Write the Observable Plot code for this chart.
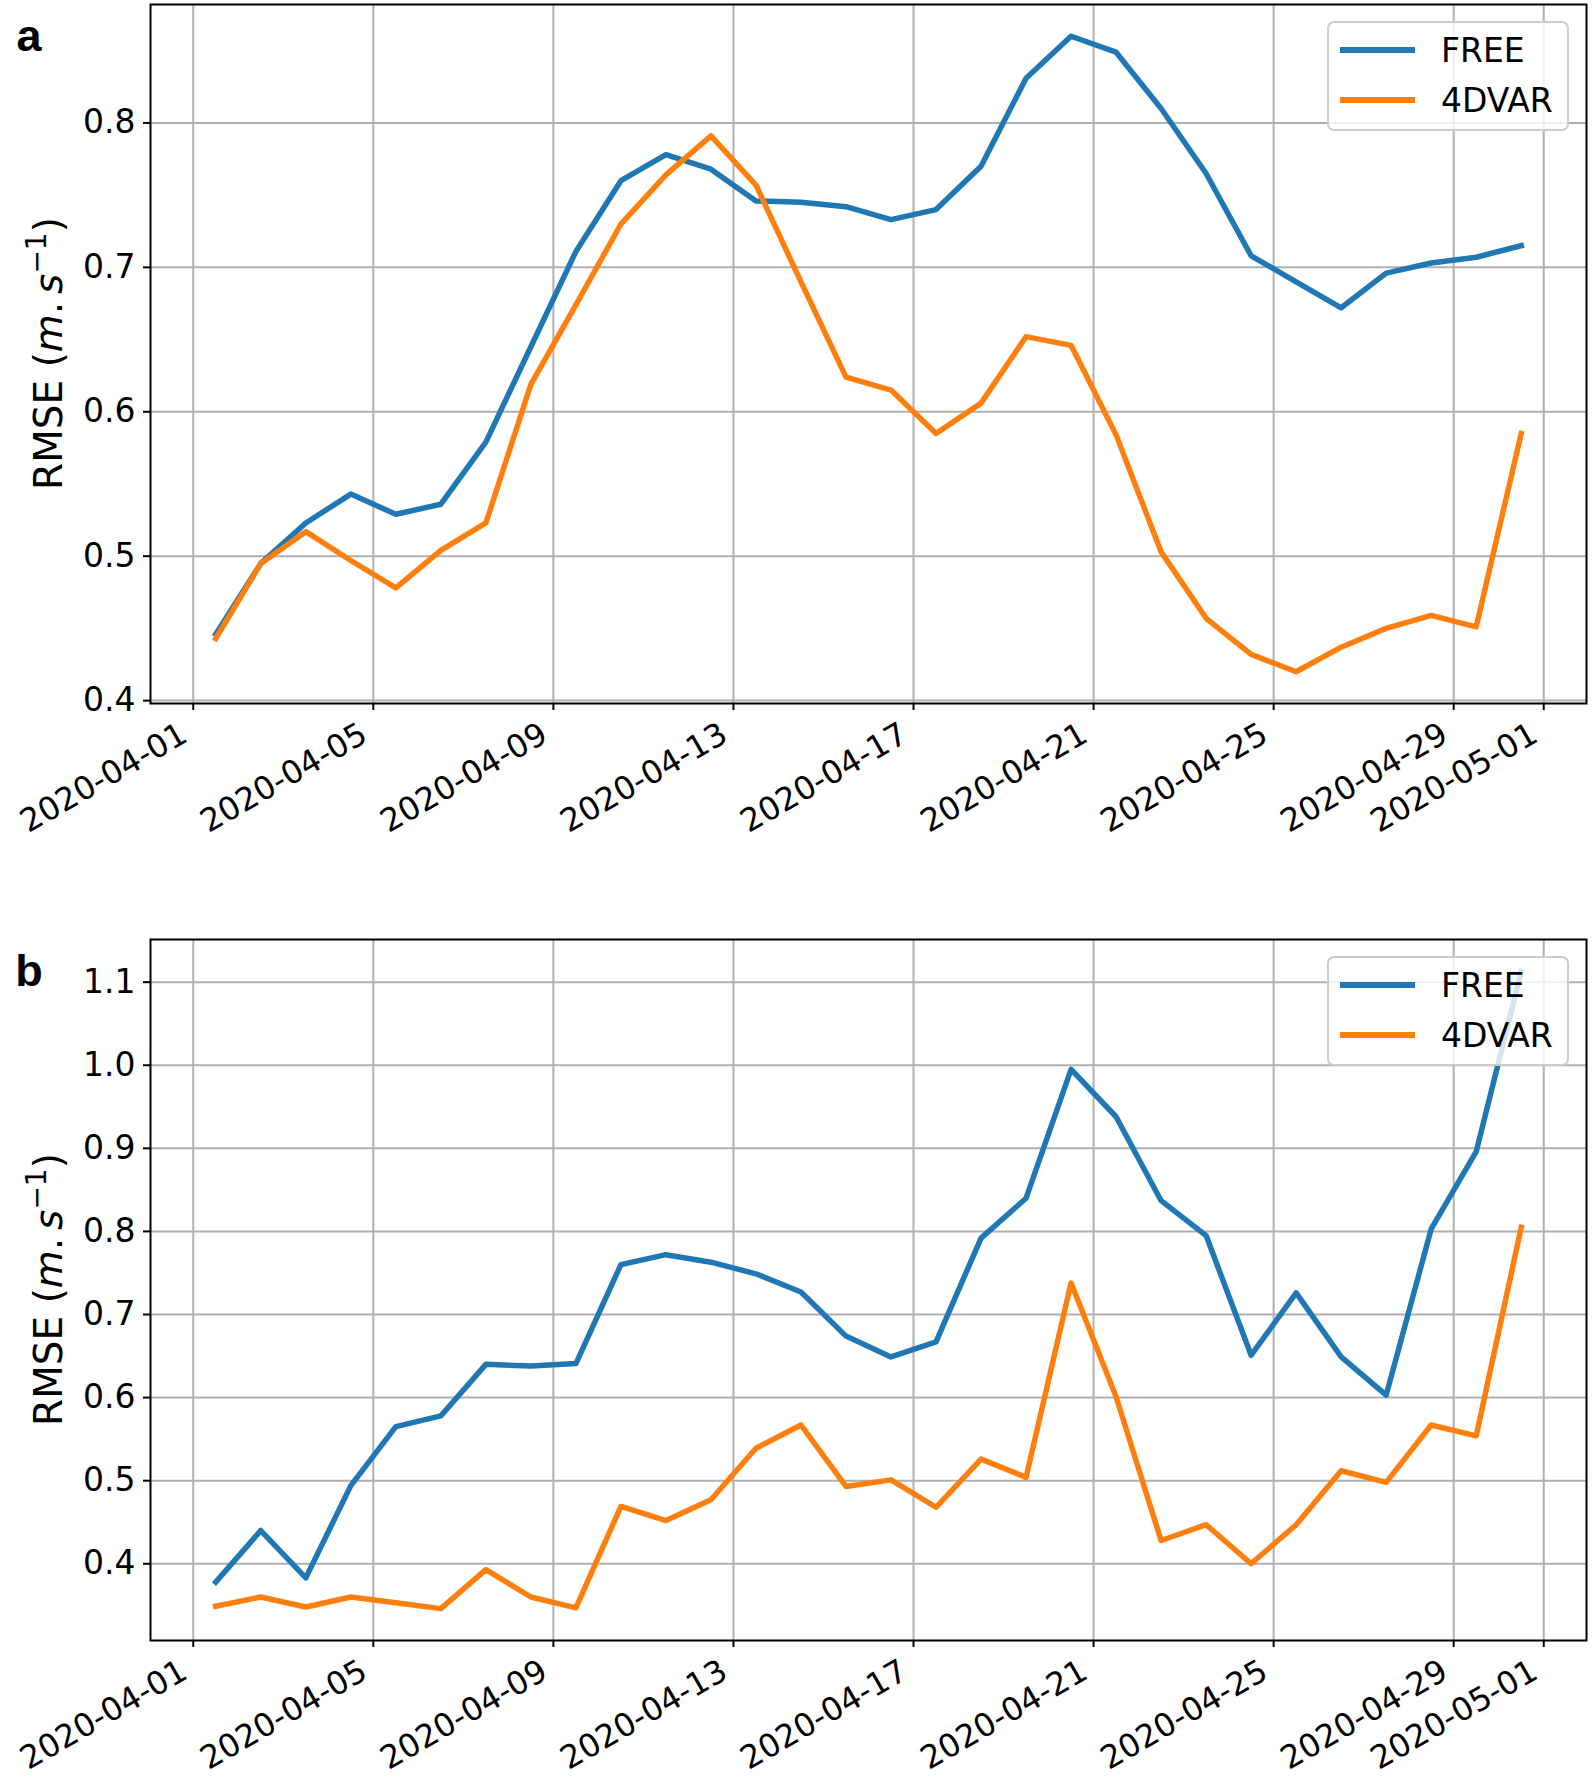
<!DOCTYPE html>
<html>
<head>
<meta charset="utf-8">
<script src="https://cdn.jsdelivr.net/npm/d3@7"></script>
<script src="https://cdn.jsdelivr.net/npm/@observablehq/plot@0.6"></script>
<style>
  html, body { margin: 0; padding: 0; background: #fff; }
  #fig { position: relative; width: 1594px; height: 1780px; overflow: hidden; background: #fff; }
  .panel { position: relative; width: 1594px; }
  .panel svg { display: block; }
  .legend { position: absolute; box-sizing: border-box; background: rgba(255,255,255,0.8);
            border: 2px solid #cccccc; border-radius: 7px; }
  .legend .sw { position: absolute; left: 11px; width: 75px; height: 6px; }
  .legend .lb { position: absolute; left: 112px; font-family: "DejaVu Sans"; font-size: 33px;
                line-height: 1; transform: translateY(-50%); white-space: nowrap; color: #000; }
</style>
</head>
<body>
<div id="fig"></div>
<script>
// ---- data ----
const dates = [
  "2020-04-01T12:00Z","2020-04-02T12:00Z","2020-04-03T12:00Z","2020-04-04T12:00Z","2020-04-05T12:00Z",
  "2020-04-06T12:00Z","2020-04-07T12:00Z","2020-04-08T12:00Z","2020-04-09T12:00Z","2020-04-10T12:00Z",
  "2020-04-11T12:00Z","2020-04-12T12:00Z","2020-04-13T12:00Z","2020-04-14T12:00Z","2020-04-15T12:00Z",
  "2020-04-16T12:00Z","2020-04-17T12:00Z","2020-04-18T12:00Z","2020-04-19T12:00Z","2020-04-20T12:00Z",
  "2020-04-21T12:00Z","2020-04-22T12:00Z","2020-04-23T12:00Z","2020-04-24T12:00Z","2020-04-25T12:00Z",
  "2020-04-26T12:00Z","2020-04-27T12:00Z","2020-04-28T12:00Z","2020-04-29T12:00Z","2020-04-30T12:00Z"
];
const seriesNames = ["FREE", "4DVAR"];
const seriesColors = ["#1f77b4", "#ff7f0e"];

const freeA = [0.446,0.495,0.523,0.543,0.529,0.536,0.579,0.645,0.711,0.760,0.778,0.768,0.746,0.745,0.742,
               0.733,0.740,0.770,0.831,0.860,0.849,0.810,0.765,0.708,0.690,0.672,0.696,0.703,0.707,0.715];
const dvarA = [0.443,0.495,0.517,0.497,0.478,0.504,0.523,0.619,0.674,0.730,0.764,0.791,0.757,0.690,0.624,
               0.615,0.585,0.606,0.652,0.646,0.584,0.503,0.457,0.432,0.420,0.437,0.450,0.459,0.451,0.585];
const freeB = [0.378,0.440,0.383,0.494,0.565,0.578,0.640,0.638,0.641,0.760,0.772,0.763,0.749,0.727,0.674,
               0.649,0.667,0.792,0.840,0.995,0.938,0.837,0.795,0.651,0.726,0.649,0.603,0.803,0.896,1.113];
const dvarB = [0.349,0.360,0.348,0.360,0.353,0.346,0.393,0.360,0.347,0.469,0.452,0.477,0.539,0.567,0.493,
               0.501,0.468,0.526,0.504,0.738,0.601,0.428,0.447,0.400,0.447,0.512,0.498,0.567,0.554,0.805];

const xTickLabels = ["2020-04-01","2020-04-05","2020-04-09","2020-04-13","2020-04-17",
                     "2020-04-21","2020-04-25","2020-04-29","2020-05-01"];
const yTicksA = [0.4, 0.5, 0.6, 0.7, 0.8];
const yTicksB = [0.4, 0.5, 0.6, 0.7, 0.8, 0.9, 1.0, 1.1];
const panelTags = ["a", "b"];

// ---- drawing ----
const W = 1594;
const parseDate = s => new Date(s);
const xTicks = xTickLabels.map(s => new Date(s + "T00:00Z"));
const fmtDate = d3.utcFormat("%Y-%m-%d");
const fig = document.getElementById("fig");

function makePanel(free, dvar, yTicks, tag, height, mTop, mBottom) {
  const rows = dates.map((d, i) => ({date: parseDate(d), free: free[i], dvar: dvar[i]}));
  const all = free.concat(dvar);
  const lo = d3.min(all), hi = d3.max(all), pad = (hi - lo) * 0.05;
  const t0 = +parseDate(dates[0]), t1 = +parseDate(dates[dates.length - 1]), tp = (t1 - t0) * 0.05;
  const mLeft = 150, mRight = 8;
  const lineOpts = {strokeWidth: 5.5, strokeLinejoin: "round", strokeLinecap: "square"};
  const svg = Plot.plot({
    width: W, height, marginLeft: mLeft, marginRight: mRight, marginTop: mTop, marginBottom: mBottom,
    style: {fontFamily: "DejaVu Sans", fontSize: "33px", color: "black", background: "white", overflow: "visible"},
    x: {type: "utc", domain: [new Date(t0 - tp), new Date(t1 + tp)]},
    y: {domain: [lo - pad, hi + pad]},
    marks: [
      Plot.gridX(xTicks, {stroke: "#b0b0b0", strokeOpacity: 1, strokeWidth: 2}),
      Plot.gridY(yTicks, {stroke: "#b0b0b0", strokeOpacity: 1, strokeWidth: 2}),
      Plot.line(rows, {x: "date", y: "free", stroke: seriesColors[0], ...lineOpts}),
      Plot.line(rows, {x: "date", y: "dvar", stroke: seriesColors[1], ...lineOpts}),
      Plot.frame({stroke: "black", strokeWidth: 2}),
      Plot.axisY(yTicks, {tickSize: 7, tickPadding: 8, tickFormat: d3.format(".1f"), label: null,
                          fontSize: 33, strokeWidth: 2}),
      Plot.axisX(xTicks, {tickSize: 7, tickFormat: () => "", label: null, strokeWidth: 2}),
      Plot.axisX(xTicks, {tickSize: 0, tickPadding: 28, tickRotate: -30, tickFormat: fmtDate,
                          label: null, fontSize: 32, dx: -9})
    ]
  });

  const s = d3.select(svg);
  const cy = mTop + (height - mTop - mBottom) / 2;
  const lab = s.append("text")
    .attr("transform", `translate(62,${cy}) rotate(-90)`)
    .attr("text-anchor", "middle")
    .attr("font-family", "DejaVu Sans")
    .attr("font-size", 39)
    .attr("fill", "black");
  lab.append("tspan").text("RMSE (");
  lab.append("tspan").attr("font-style", "italic").text("m");
  lab.append("tspan").text(".\u2009");
  lab.append("tspan").attr("font-style", "italic").text("s");
  lab.append("tspan").attr("font-size", 28).attr("dy", -16).text("\u22121");
  lab.append("tspan").attr("dy", 16).text(")");

  s.append("text")
    .attr("x", 29).attr("y", mTop + 47)
    .attr("font-family", "Liberation Sans, Arial, sans-serif")
    .attr("font-weight", "bold").attr("font-size", 45)
    .attr("fill", "black")
    .text(tag);

  const wrap = document.createElement("div");
  wrap.className = "panel";
  wrap.style.height = height + "px";
  wrap.appendChild(svg);

  const lg = document.createElement("div");
  lg.className = "legend";
  const lgW = 242, lgH = 110;
  lg.style.left = (W - mRight - 17 - lgW) + "px";
  lg.style.top = (mTop + 17) + "px";
  lg.style.width = lgW + "px";
  lg.style.height = lgH + "px";
  seriesNames.forEach((name, i) => {
    const yc = 27 + i * 50;
    const sw = document.createElement("div");
    sw.className = "sw";
    sw.style.top = (yc - 3) + "px";
    sw.style.background = seriesColors[i];
    const lb = document.createElement("div");
    lb.className = "lb";
    lb.style.top = yc + "px";
    lb.textContent = name;
    lg.appendChild(sw);
    lg.appendChild(lb);
  });
  wrap.appendChild(lg);
  fig.appendChild(wrap);
}

makePanel(freeA, dvarA, yTicksA, panelTags[0], 935, 4, 232);
makePanel(freeB, dvarB, yTicksB, panelTags[1], 845, 4, 140);
</script>
</body>
</html>
